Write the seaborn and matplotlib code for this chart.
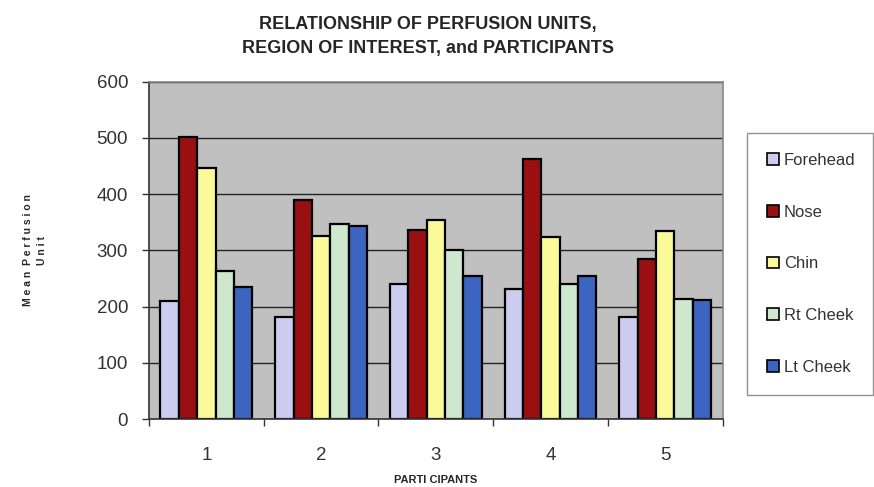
import matplotlib
matplotlib.use("Agg")
import matplotlib.pyplot as plt
import matplotlib.patches as mpatches
import numpy as np
import pandas as pd
import seaborn as sns

participants = ["1", "2", "3", "4", "5"]
regions = ["Forehead", "Nose", "Chin", "Rt Cheek", "Lt Cheek"]

forehead = [210, 182, 240, 232, 182]
nose = [502, 390, 336, 463, 285]
chin = [446, 325, 354, 323, 335]
rt_cheek = [264, 347, 300, 240, 214]
lt_cheek = [234, 344, 255, 255, 212]

y_ticks = [0, 100, 200, 300, 400, 500, 600]

PALETTE = {
    "Forehead": "#ccccf0",
    "Nose":     "#9a0f12",
    "Chin":     "#fafa9a",
    "Rt Cheek": "#cde8cd",
    "Lt Cheek": "#3b65c0",
}

df = pd.DataFrame({
    "participant": np.repeat(participants, len(regions)),
    "region": regions * len(participants),
    "value": np.column_stack([forehead, nose, chin, rt_cheek, lt_cheek]).ravel(),
})

sns.set_style("white")
plt.rcParams["font.family"] = ["Liberation Sans", "DejaVu Sans"]

fig = plt.figure(figsize=(8.74, 4.87), dpi=100)
ax = fig.add_axes([0.1705, 0.1396, 0.6563, 0.6925])
ax.set_facecolor("#c0c0c0")

sns.barplot(data=df, x="participant", y="value", hue="region",
            hue_order=regions, palette=PALETTE, width=0.8, saturation=1,
            edgecolor="black", linewidth=1.6, ax=ax, legend=False)

ax.set_ylim(0, 600)
ax.set_xlim(-0.5, 4.5)
ax.set_yticks(y_ticks)
ax.set_yticklabels([str(t) for t in y_ticks], fontsize=13.5, color="#333333")
ax.yaxis.grid(True, color="#222222", linewidth=1.0)
ax.set_axisbelow(True)

ax.set_xticks(range(len(participants)))
ax.set_xticklabels(participants, fontsize=13.5, color="#333333")
ax.set_xticks(np.arange(-0.5, 5.0, 1.0), minor=True)
ax.tick_params(axis="x", which="major", length=0, pad=20)
ax.tick_params(axis="x", which="minor", length=5, width=1, color="#333333",
               direction="out", bottom=True)
ax.tick_params(axis="y", length=5, width=1, color="#333333", direction="out",
               left=True, pad=10)

for side in ["left", "bottom"]:
    ax.spines[side].set_color("#333333")
    ax.spines[side].set_linewidth(1.2)
for side in ["top", "right"]:
    ax.spines[side].set_color("#888888")
    ax.spines[side].set_linewidth(1.2)

ax.set_xlabel("PARTI CIPANTS", fontsize=8, fontweight="bold", labelpad=8)
ax.set_ylabel("M e a n  P e r f u s i o n\nU n i t", fontsize=7.5, fontweight="bold",
              labelpad=36, linespacing=1.5)

fig.text(0.49, 0.925, "RELATIONSHIP OF PERFUSION UNITS,\nREGION OF INTEREST, and PARTICIPANTS",
         ha="center", va="center", fontsize=13, fontweight="bold", linespacing=1.55)

handles = [mpatches.Patch(facecolor=PALETTE[r], edgecolor="black", linewidth=1.2, label=r)
           for r in regions]
leg = fig.legend(handles=handles, loc="upper left",
                 bbox_to_anchor=(0.855, 0.185, 0.144, 0.542), mode="expand",
                 fontsize=12, frameon=True, fancybox=False,
                 handlelength=0.7, handleheight=0.7, handletextpad=0.3,
                 labelspacing=2.2, borderpad=1.2, borderaxespad=0)
leg.get_frame().set_edgecolor("#777777")
leg.get_frame().set_linewidth(1.0)
for t in leg.get_texts():
    t.set_color("#333333")

fig.savefig("out.png", dpi=100)
plt.close(fig)
